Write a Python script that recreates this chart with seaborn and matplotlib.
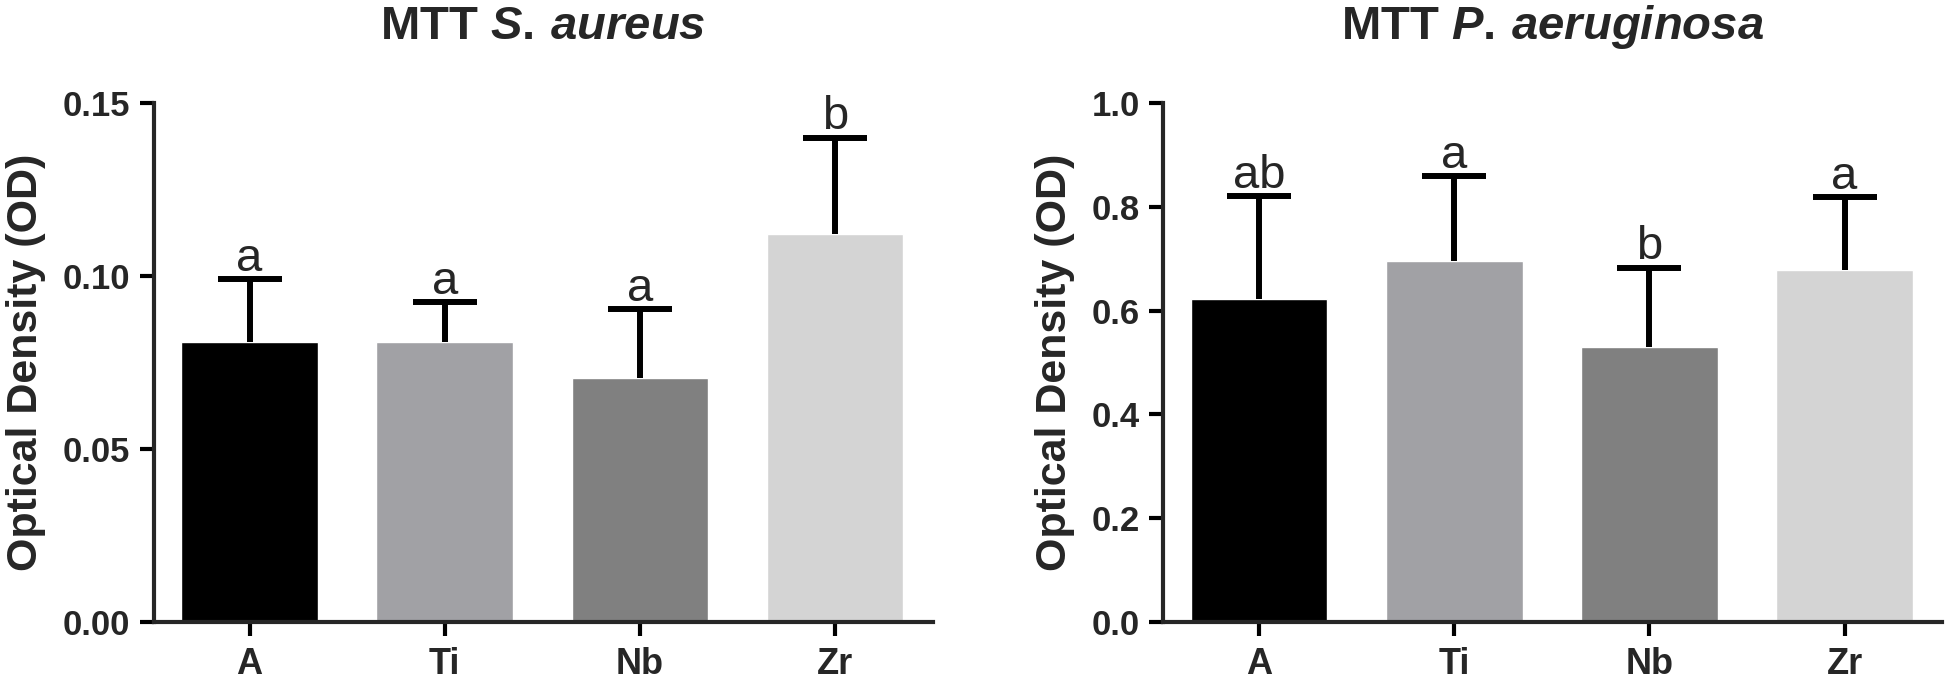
import numpy as np
import matplotlib
matplotlib.use('Agg')
import matplotlib.pyplot as plt
import seaborn as sns
from matplotlib.ticker import FormatStrFormatter

groups = ['A', 'Ti', 'Nb', 'Zr']
bar_colors = ['#000000', '#a1a1a5', '#808080', '#d4d4d4']

# S. aureus
sa_mean = [0.081, 0.081, 0.0705, 0.112]
sa_err = [0.018, 0.0115, 0.020, 0.028]
sa_letters = ['a', 'a', 'a', 'b']

# P. aeruginosa
pa_mean = [0.622, 0.696, 0.530, 0.679]
pa_err = [0.199, 0.163, 0.153, 0.140]
pa_letters = ['ab', 'a', 'b', 'a']

sns.set_style('ticks')
plt.rcParams['font.family'] = ['Liberation Sans', 'DejaVu Sans']
plt.rcParams['mathtext.fontset'] = 'custom'
plt.rcParams['mathtext.rm'] = 'Liberation Sans:bold'
plt.rcParams['mathtext.it'] = 'Liberation Sans:italic:bold'

fig, axes = plt.subplots(1, 2, figsize=(19.46, 6.82), dpi=100)
fig.subplots_adjust(left=0.0791, right=0.998, bottom=0.088, top=0.849, wspace=0.2965)

panels = [
    (axes[0], sa_mean, sa_err, sa_letters, r'MTT $\mathit{S.\,aureus}$', [0, 0.05, 0.10, 0.15], '%.2f'),
    (axes[1], pa_mean, pa_err, pa_letters, r'MTT $\mathit{P.\,aeruginosa}$', [0, 0.2, 0.4, 0.6, 0.8, 1.0], '%.1f'),
]

for ax, means, errs, letters, title, yticks, fmt in panels:
    sns.barplot(x=groups, y=means, hue=groups, palette=bar_colors, legend=False,
                saturation=1, width=0.7, errorbar=None, ax=ax)
    # one-sided (upper) error bars
    eb = ax.errorbar(range(len(groups)), means, yerr=[np.zeros(len(errs)), errs],
                     fmt='none', ecolor='black', elinewidth=4.3, capsize=23, capthick=4.3)
    eb[1][0].remove()
    for i, lab in enumerate(letters):
        ax.annotate(lab, xy=(i, means[i] + errs[i]), xytext=(0, 6), textcoords='offset points',
                    ha='center', va='baseline', fontsize=34, annotation_clip=False)

    ax.set_xlim(-0.49, 3.5)
    ax.set_ylim(0, yticks[-1])
    ax.set_yticks(yticks)
    ax.yaxis.set_major_formatter(FormatStrFormatter(fmt))
    ax.set_title(title, fontsize=34, fontweight='bold', pad=46)
    ax.set_ylabel('Optical Density (OD)', fontsize=31, fontweight='bold', labelpad=12)
    ax.set_xlabel('')

    sns.despine(ax=ax)
    for side in ['left', 'bottom']:
        ax.spines[side].set_linewidth(3)
    ax.tick_params(axis='both', direction='out', length=10, width=3, color='black')
    ax.tick_params(axis='y', labelsize=25, pad=7)
    ax.tick_params(axis='x', labelsize=26, pad=8)
    for lbl in ax.get_xticklabels() + ax.get_yticklabels():
        lbl.set_fontweight('bold')

plt.savefig('out.png', dpi=100)
